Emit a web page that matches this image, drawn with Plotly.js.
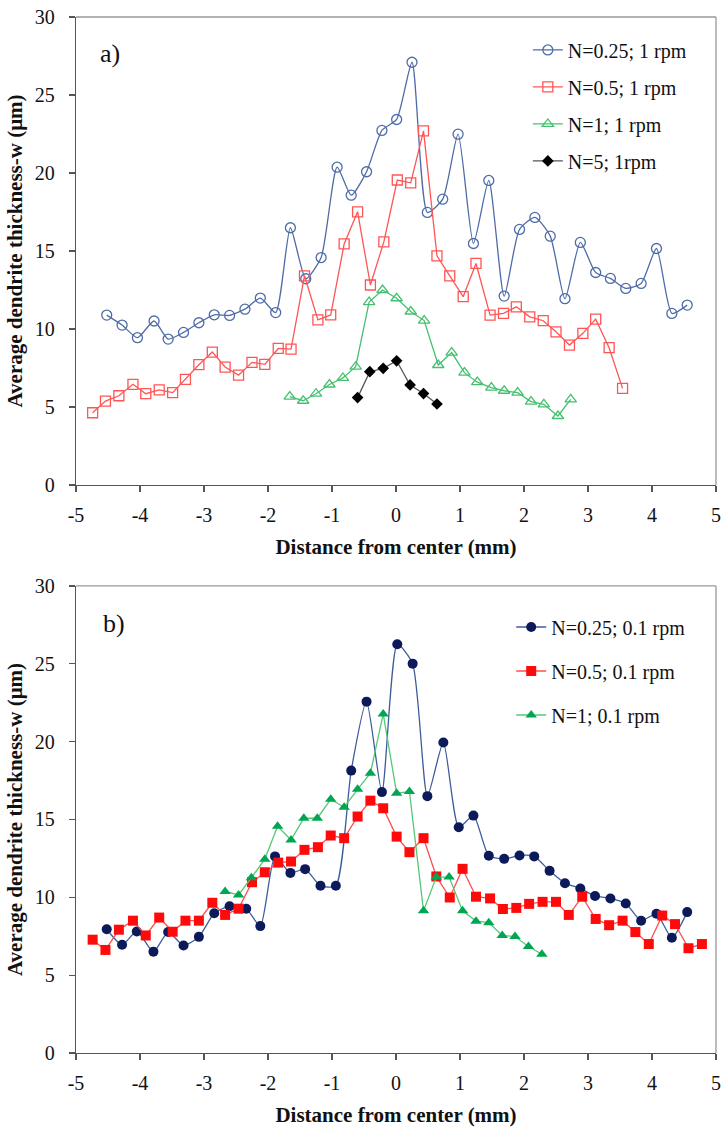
<!DOCTYPE html>
<html>
<head>
<meta charset="utf-8">
<script src="https://cdn.plot.ly/plotly-3.0.1.min.js"></script>
<style>html,body{margin:0;padding:0;background:#fff;}#chart{width:722px;height:1135px;}</style>
</head>
<body>
<div id="chart"></div>
<script>
// ---------- Panel a) : rotation 1 rpm ----------
const aN025_x = [-4.52,-4.28,-4.04,-3.78,-3.56,-3.32,-3.08,-2.84,-2.60,-2.36,-2.12,-1.88,-1.65,-1.41,-1.17,-0.92,-0.70,-0.46,-0.22,0.01,0.25,0.49,0.73,0.97,1.21,1.45,1.69,1.93,2.17,2.41,2.64,2.88,3.12,3.35,3.59,3.83,4.07,4.31,4.55];
const aN025_y = [10.89,10.25,9.44,10.51,9.35,9.78,10.40,10.91,10.87,11.27,11.98,11.05,16.49,13.22,14.58,20.37,18.58,20.08,22.73,23.43,27.10,17.47,18.32,22.49,15.48,19.52,12.11,16.38,17.15,15.95,11.94,15.55,13.62,13.24,12.60,12.92,15.16,11.00,11.53];

const aN05_x = [-4.74,-4.54,-4.33,-4.11,-3.91,-3.70,-3.49,-3.29,-3.08,-2.87,-2.67,-2.46,-2.25,-2.05,-1.84,-1.64,-1.43,-1.22,-1.02,-0.81,-0.60,-0.40,-0.19,0.02,0.23,0.43,0.64,0.84,1.05,1.25,1.47,1.68,1.88,2.09,2.30,2.50,2.71,2.92,3.12,3.33,3.54];
const aN05_y = [4.63,5.38,5.72,6.45,5.85,6.09,5.92,6.77,7.71,8.52,7.56,7.04,7.86,7.73,8.75,8.71,13.41,10.58,10.90,15.45,17.51,12.82,15.58,19.55,19.37,22.70,14.69,13.41,12.07,14.20,10.89,11.00,11.42,10.78,10.53,9.82,8.97,9.72,10.63,8.80,6.19];

const aN1_x = [-1.66,-1.45,-1.25,-1.04,-0.83,-0.63,-0.42,-0.21,0.01,0.23,0.44,0.66,0.87,1.07,1.27,1.49,1.69,1.90,2.11,2.31,2.53,2.73];
const aN1_y = [5.66,5.40,5.85,6.44,6.86,7.58,11.72,12.50,11.97,11.12,10.54,7.69,8.49,7.20,6.59,6.24,6.04,5.92,5.34,5.17,4.42,5.49];

const aN5_x = [-0.60,-0.41,-0.20,0.01,0.22,0.43,0.64];
const aN5_y = [5.60,7.26,7.48,7.96,6.41,5.86,5.19];

// ---------- Panel b) : rotation 0.1 rpm ----------
const bN025_x = [-4.52,-4.28,-4.05,-3.79,-3.56,-3.32,-3.08,-2.84,-2.60,-2.34,-2.12,-1.89,-1.65,-1.42,-1.18,-0.94,-0.70,-0.46,-0.22,0.02,0.26,0.49,0.74,0.98,1.21,1.45,1.69,1.93,2.16,2.40,2.64,2.88,3.11,3.35,3.59,3.83,4.07,4.31,4.55];
const bN025_y = [7.95,6.95,7.81,6.51,7.77,6.91,7.46,8.98,9.43,9.27,8.15,12.63,11.57,11.81,10.74,10.74,18.14,22.57,16.76,26.26,25.01,16.50,19.95,14.50,15.25,12.67,12.47,12.69,12.63,11.70,10.91,10.57,10.09,9.93,9.60,8.50,8.94,7.40,9.05];

const bN05_x = [-4.74,-4.54,-4.33,-4.11,-3.91,-3.70,-3.49,-3.29,-3.08,-2.87,-2.67,-2.46,-2.25,-2.05,-1.84,-1.64,-1.43,-1.22,-1.02,-0.81,-0.60,-0.40,-0.20,0.01,0.21,0.43,0.63,0.84,1.04,1.25,1.47,1.67,1.88,2.08,2.29,2.50,2.70,2.91,3.12,3.33,3.54,3.74,3.95,4.16,4.36,4.57,4.78];
const bN05_y = [7.28,6.62,7.92,8.50,7.55,8.70,7.79,8.50,8.50,9.65,8.87,9.27,10.97,11.61,12.23,12.30,13.05,13.22,13.97,13.80,15.19,16.21,15.72,13.90,12.90,13.80,11.34,9.99,11.83,10.04,9.93,9.25,9.32,9.58,9.71,9.71,8.87,10.04,8.61,8.21,8.50,7.77,7.00,8.83,8.28,6.73,7.00];

const bN1_x = [-2.67,-2.46,-2.26,-2.05,-1.85,-1.64,-1.44,-1.23,-1.02,-0.81,-0.60,-0.40,-0.20,0.01,0.21,0.43,0.63,0.83,1.04,1.25,1.45,1.66,1.86,2.07,2.28];
const bN1_y = [10.38,10.15,11.26,12.45,14.57,13.69,15.08,15.08,16.30,15.79,16.94,17.97,21.78,16.69,16.79,9.13,11.30,11.30,9.13,8.47,8.37,7.55,7.48,6.84,6.34];

const xTickVals = [-5,-4,-3,-2,-1,0,1,2,3,4,5];
const xTickText = ['-5','-4','-3','-2','-1','0','1','2','3','4','5'];
const yTickVals = [0,5,10,15,20,25,30];
const xTitle = 'Distance from center (mm)';
const yTitle = 'Average dendrite thickness-w (μm)';

const SERIF = 'Liberation Serif, Times New Roman, serif';

function tr(x, y, name, xa, ya, leg, lineColor, sym, mColor, opts) {
  opts = opts || {};
  return {
    type: 'scatter', mode: 'lines+markers', x: x, y: y, name: name,
    xaxis: xa, yaxis: ya, legend: leg, legendgroup: name,
    line: {color: lineColor, width: 1.3, shape: opts.spline ? 'spline' : 'linear', smoothing: 0.6},
    marker: {symbol: sym, size: opts.size || 10, color: mColor, line: {color: mColor, width: opts.open ? 1.3 : 0}}
  };
}

const data = [
  tr(aN025_x, aN025_y, 'N=0.25; 1 rpm', 'x', 'y', 'legend', '#4F6CA7', 'circle-open', '#4F6CA7', {open: true, spline: true}),
  tr(aN05_x, aN05_y, 'N=0.5; 1 rpm', 'x', 'y', 'legend', '#FF5555', 'square-open', '#FF5555', {open: true}),
  tr(aN1_x, aN1_y, 'N=1; 1 rpm', 'x', 'y', 'legend', '#45C070', 'triangle-up-open', '#45C070', {open: true}),
  tr(aN5_x, aN5_y, 'N=5; 1rpm', 'x', 'y', 'legend', '#555555', 'diamond', '#000000', {size: 9}),
  tr(bN025_x, bN025_y, 'N=0.25; 0.1 rpm', 'x2', 'y2', 'legend2', '#3F5C9B', 'circle', '#0C1A5A', {spline: true}),
  tr(bN05_x, bN05_y, 'N=0.5; 0.1 rpm', 'x2', 'y2', 'legend2', '#FF4D4D', 'square', '#FF0A0A'),
  tr(bN1_x, bN1_y, 'N=1; 0.1 rpm', 'x2', 'y2', 'legend2', '#55C878', 'triangle-up', '#00A651')
];

function xax(domainAnchor) {
  return {
    anchor: domainAnchor, domain: [0, 1], range: [-5, 5], tickvals: xTickVals, ticktext: xTickText,
    showgrid: false, zeroline: false, showline: true, linecolor: '#555', linewidth: 1.3,
    ticks: 'outside', ticklen: 6, tickwidth: 1.3, tickcolor: '#555', ticklabelstandoff: 6,
    tickfont: {family: SERIF, size: 20, color: '#111'},
    title: {text: xTitle, font: {family: SERIF, size: 21, color: '#111', weight: 'bold'}, standoff: 14}
  };
}
function yax(domainAnchor, dom) {
  return {
    anchor: domainAnchor, domain: dom, range: [0, 30], tickvals: yTickVals,
    showgrid: false, zeroline: false, showline: true, linecolor: '#555', linewidth: 1.3,
    ticks: 'outside', ticklen: 6, tickwidth: 1.3, tickcolor: '#555', ticklabelstandoff: 10,
    tickfont: {family: SERIF, size: 20, color: '#111'},
    title: {text: yTitle, font: {family: SERIF, size: 21, color: '#111', weight: 'bold'}, standoff: 6}
  };
}

const topDom = [0.5483, 1];
const botDom = [0, 0.4508];

const layout = {
  width: 722, height: 1135,
  margin: {l: 76, r: 6, t: 17, b: 82},
  paper_bgcolor: '#fff', plot_bgcolor: '#fff',
  showlegend: true,
  xaxis: xax('y'), yaxis: yax('x', topDom),
  xaxis2: xax('y2'), yaxis2: yax('x2', botDom),
  legend: {x: 0.706, y: 0.987, xanchor: 'left', yanchor: 'top', bgcolor: 'rgba(0,0,0,0)',
           font: {family: SERIF, size: 20, color: '#111'}, tracegroupgap: 8, itemwidth: 30},
  legend2: {x: 0.68, y: 0.43, xanchor: 'left', yanchor: 'top', bgcolor: 'rgba(0,0,0,0)',
           font: {family: SERIF, size: 20, color: '#111'}, tracegroupgap: 15, itemwidth: 30},
  shapes: [
    {type: 'line', xref: 'x domain', yref: 'y domain', x0: 0, x1: 1, y0: 1, y1: 1, line: {color: '#999', width: 1.3}},
    {type: 'line', xref: 'x domain', yref: 'y domain', x0: 1, x1: 1, y0: 0, y1: 1, line: {color: '#999', width: 1.3}},
    {type: 'line', xref: 'x2 domain', yref: 'y2 domain', x0: 0, x1: 1, y0: 1, y1: 1, line: {color: '#999', width: 1.3}},
    {type: 'line', xref: 'x2 domain', yref: 'y2 domain', x0: 1, x1: 1, y0: 0, y1: 1, line: {color: '#999', width: 1.3}}
  ],
  annotations: [
    {text: 'a)', xref: 'x domain', yref: 'y domain', x: 0.053, y: 0.923, xanchor: 'center', yanchor: 'middle',
     showarrow: false, font: {family: SERIF, size: 26, color: '#111'}},
    {text: 'b)', xref: 'x2 domain', yref: 'y2 domain', x: 0.06, y: 0.92, xanchor: 'center', yanchor: 'middle',
     showarrow: false, font: {family: SERIF, size: 26, color: '#111'}}
  ]
};

Plotly.newPlot('chart', data, layout, {displayModeBar: false, staticPlot: true});
</script>
</body>
</html>
